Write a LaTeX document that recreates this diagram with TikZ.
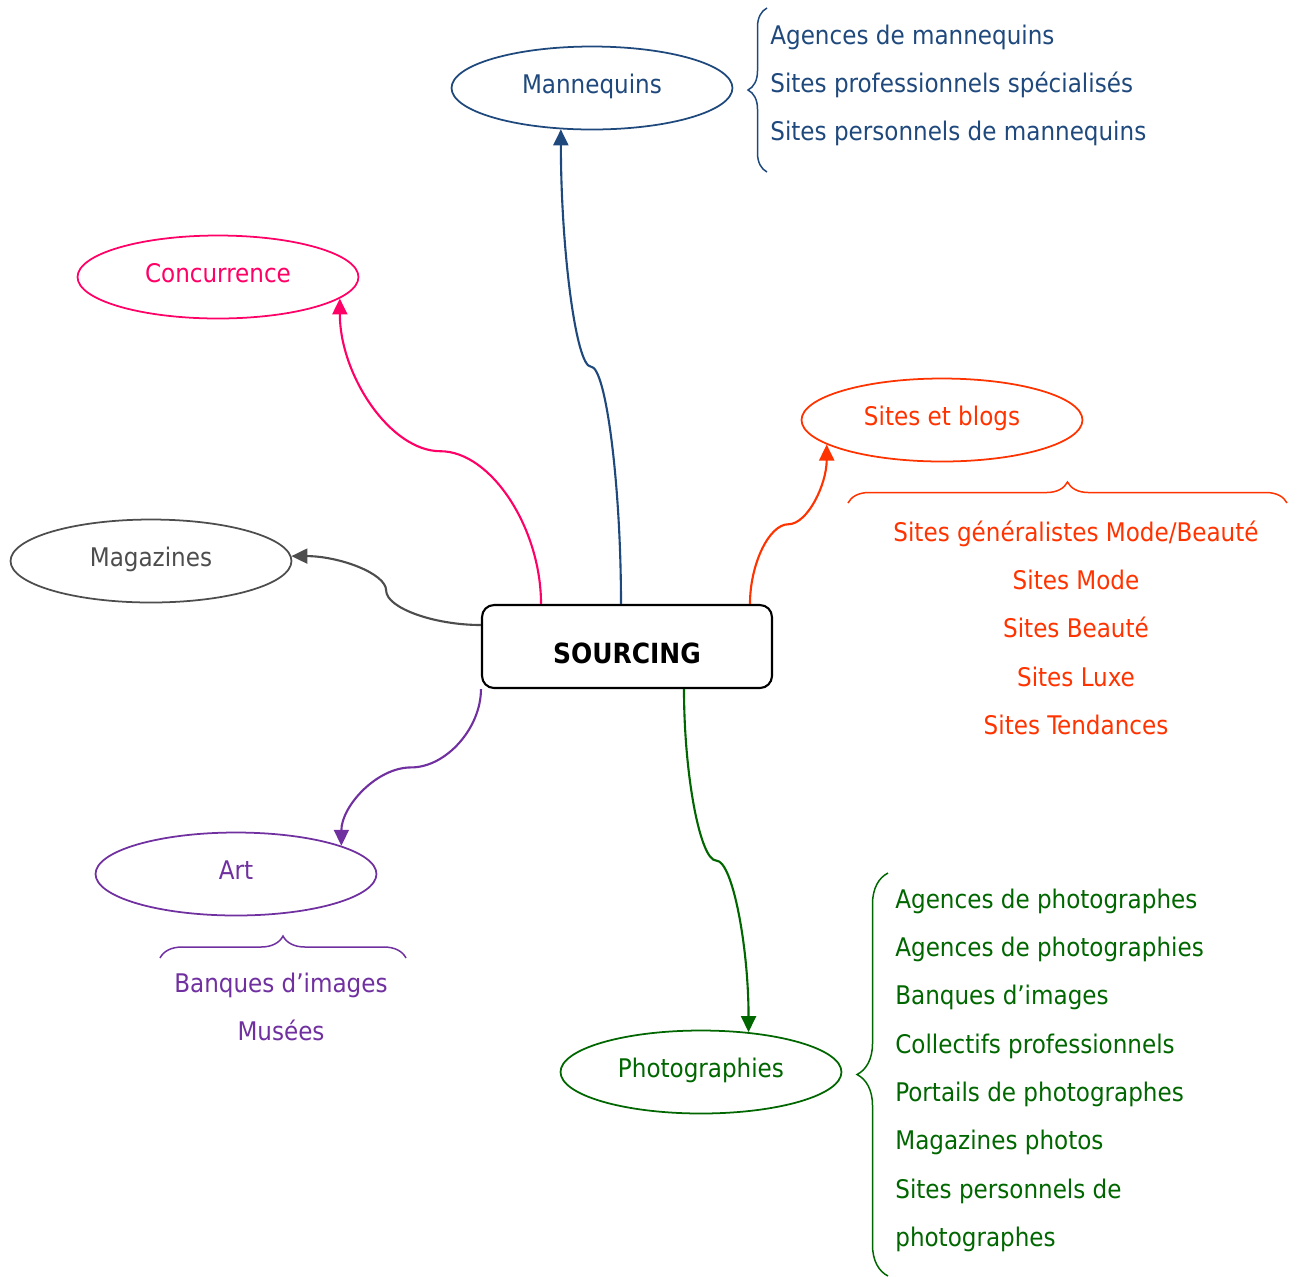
\documentclass[tikz,border=0pt]{standalone}
\usepackage{fontspec}
\setmainfont{DejaVu Sans Condensed}
\usepackage{tikz}
\usetikzlibrary{shapes,positioning,calc,arrows.meta,decorations.pathreplacing}

\definecolor{mannblue}{RGB}{31,73,125}
\definecolor{concpink}{RGB}{255,0,102}
\definecolor{sitesred}{RGB}{255,51,0}
\definecolor{maggray}{RGB}{77,77,77}
\definecolor{artpurple}{RGB}{112,48,160}
\definecolor{photogreen}{RGB}{0,102,0}

\begin{document}
\begin{tikzpicture}[x=0.02cm,y=-0.02cm,node distance=0.968cm,
    font=\fontsize{14.6}{17.5}\selectfont,
    >={Triangle[length=0.32cm,width=0.3cm]}]

  \tikzstyle{topic}=[ellipse,draw,line width=1pt,minimum width=5.62cm,
                     minimum height=1.66cm,inner sep=0pt,
                     text height=10.7pt,text depth=5pt]
  \tikzstyle{hub}=[rectangle,draw=black,rounded corners=0.24cm,line width=1.2pt,
                   minimum width=5.8cm,minimum height=1.66cm,inner sep=0pt,
                   text height=19pt,text depth=0pt,
                   font=\fontsize{15.8}{19}\selectfont\bfseries]
  \tikzstyle{item}=[inner sep=0pt]
  \tikzstyle{link}=[->,line width=1.2pt]
  \tikzstyle{curly}=[decorate,line width=0.85pt]
  \tikzstyle{vcurve}=[to path={let \p1=(\tikztostart), \p2=(\tikztotarget) in
      .. controls (\x1,{0.75*\y1+0.25*\y2}) and ({0.75*\x1+0.25*\x2},{0.5*\y1+0.5*\y2})
      .. ({0.5*\x1+0.5*\x2},{0.5*\y1+0.5*\y2})
      .. controls ({0.25*\x1+0.75*\x2},{0.5*\y1+0.5*\y2}) and (\x2,{0.25*\y1+0.75*\y2})
      .. (\tikztotarget)}]
  \tikzstyle{hcurve}=[to path={let \p1=(\tikztostart), \p2=(\tikztotarget) in
      .. controls ({0.75*\x1+0.25*\x2},\y1) and ({0.5*\x1+0.5*\x2},{0.75*\y1+0.25*\y2})
      .. ({0.5*\x1+0.5*\x2},{0.5*\y1+0.5*\y2})
      .. controls ({0.5*\x1+0.5*\x2},{0.25*\y1+0.75*\y2}) and ({0.25*\x1+0.75*\x2},\y2)
      .. (\tikztotarget)}]

  \useasboundingbox (0,0) rectangle (1299,1276);

  % centre and branches
  \node [hub] (src) at (627,646.5) {SOURCING};

  \node [topic,mannblue]   (mann)  at (592,88)   {Mannequins};
  \node [topic,concpink]   (conc)  at (218,277)  {Concurrence};
  \node [topic,sitesred]   (sites) at (942,420)  {Sites et blogs};
  \node [topic,maggray]    (mag)   at (151,561)  {Magazines};
  \node [topic,artpurple]  (art)   at (236,874)  {Art};
  \node [topic,photogreen] (photo) at (701,1072) {Photographies};

  \draw [link,mannblue]   ([xshift=-.12cm]src.north) to[vcurve] (mann.233);
  \draw [link,concpink]   ([xshift=-1.72cm]src.north) to[vcurve] (conc.350);
  \draw [link,sitesred]   ([xshift=2.46cm]src.north) to[vcurve] (sites.192);
  \draw [link,maggray]    ([yshift=.43cm]src.west) to[hcurve] (mag.2);
  \draw [link,artpurple]  (src.south west) to[vcurve] (art.15);
  \draw [link,photogreen] ([xshift=1.14cm]src.south) to[vcurve] (photo.40);

  % Mannequins
  \draw [curly,mannblue,decoration={brace,amplitude=.38cm}] (767,172) -- (767,8);
  \node [item,mannblue,anchor=base west] (mann1) at (770,44) {Agences de mannequins};
  \node [item,mannblue,below=of mann1.base west,anchor=base west] (mann2)
    {Sites professionnels spécialisés};
  \node [item,mannblue,below=of mann2.base west,anchor=base west] (mann3)
    {Sites personnels de mannequins};

  % Sites et blogs
  \draw [curly,sitesred,decoration={brace,amplitude=.42cm}] (848,503) -- (1287,503);
  \node [item,sitesred,anchor=base] (sites1) at (1076,541) {Sites généralistes Mode/Beauté};
  \node [item,sitesred,below=of sites1.base,anchor=base] (sites2) {Sites Mode};
  \node [item,sitesred,below=of sites2.base,anchor=base] (sites3) {Sites Beauté};
  \node [item,sitesred,below=of sites3.base,anchor=base] (sites4) {Sites Luxe};
  \node [item,sitesred,below=of sites4.base,anchor=base] (sites5) {Sites Tendances};

  % Art
  \draw [curly,artpurple,decoration={brace,amplitude=.44cm}] (160,958) -- (406,958);
  \node [item,artpurple,anchor=base] (art1) at (281,992) {Banques d’images};
  \node [item,artpurple,below=of art1.base,anchor=base] (art2) {Musées};

  % Photographies
  \draw [curly,photogreen,decoration={brace,amplitude=.62cm}] (888,1276) -- (888,873);
  \node [item,photogreen,anchor=base west] (photo1) at (895,908) {Agences de photographes};
  \node [item,photogreen,below=of photo1.base west,anchor=base west] (photo2)
    {Agences de photographies};
  \node [item,photogreen,below=of photo2.base west,anchor=base west] (photo3)
    {Banques d’images};
  \node [item,photogreen,below=of photo3.base west,anchor=base west] (photo4)
    {Collectifs professionnels};
  \node [item,photogreen,below=of photo4.base west,anchor=base west] (photo5)
    {Portails de photographes};
  \node [item,photogreen,below=of photo5.base west,anchor=base west] (photo6)
    {Magazines photos};
  \node [item,photogreen,below=of photo6.base west,anchor=base west] (photo7)
    {Sites personnels de};
  \node [item,photogreen,below=of photo7.base west,anchor=base west] (photo8)
    {photographes};
\end{tikzpicture}
\end{document}
